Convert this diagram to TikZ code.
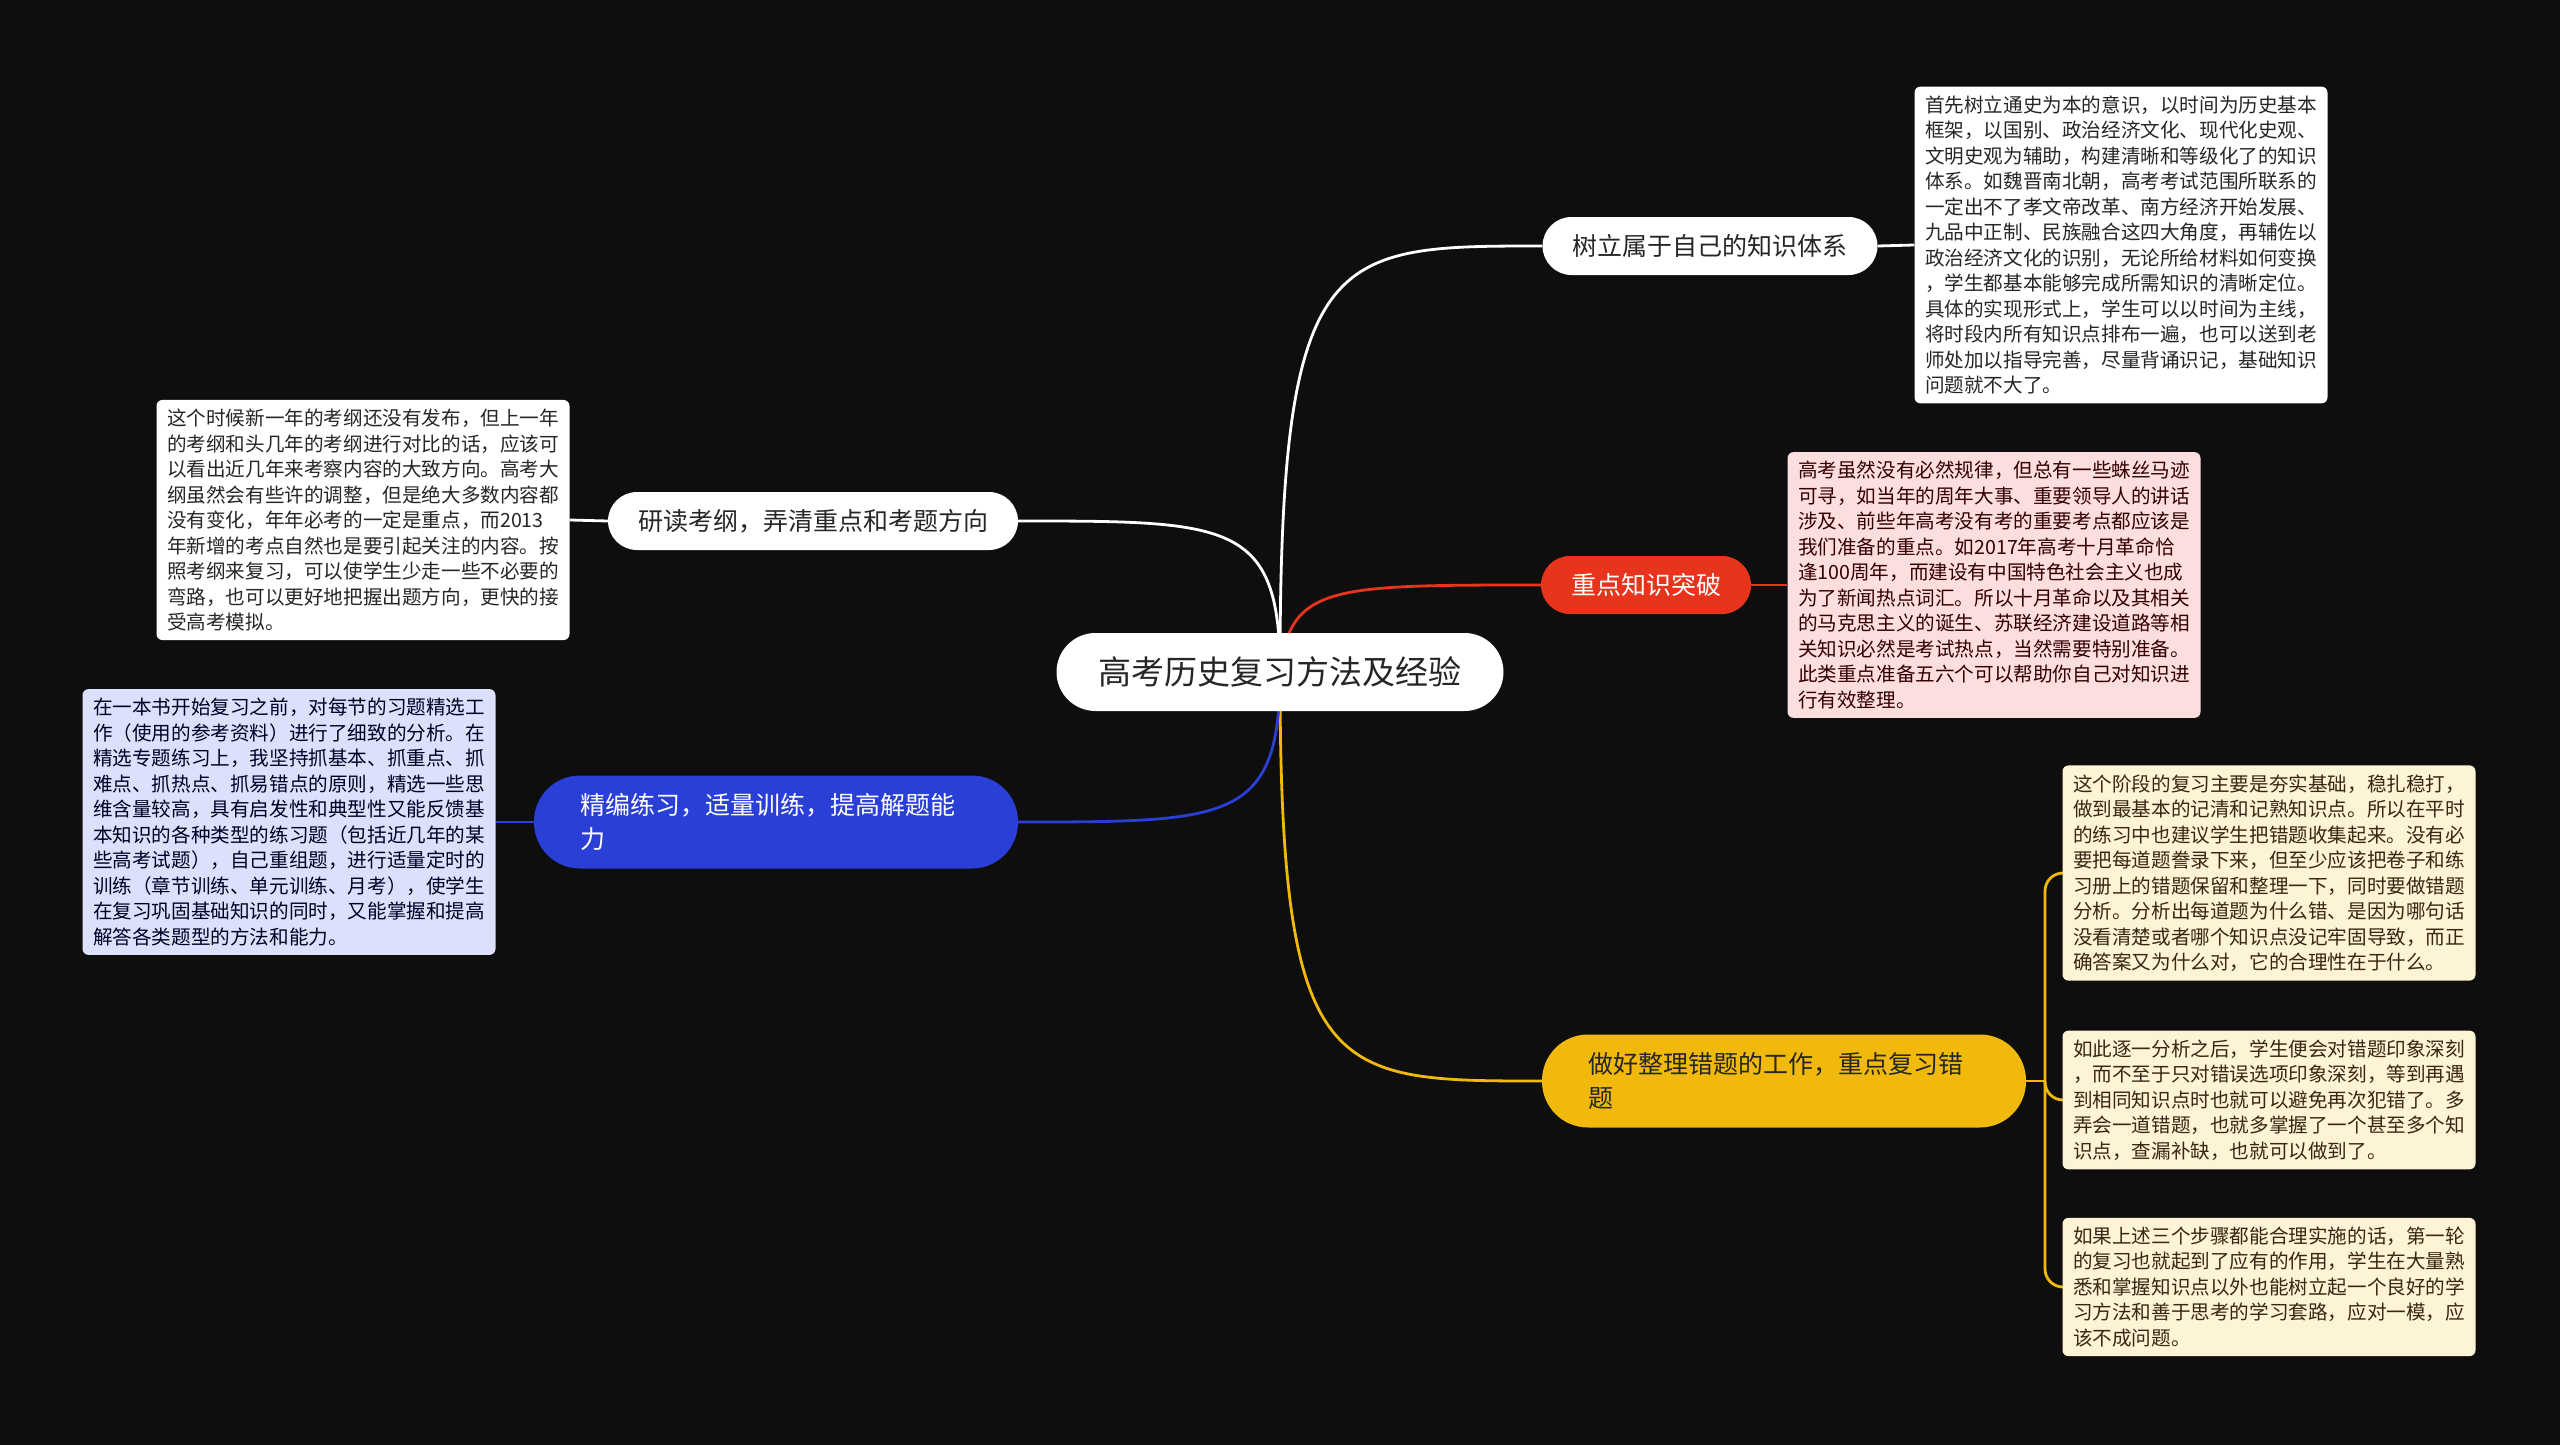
\documentclass[tikz,border=0pt]{standalone}
\usepackage{fontspec}
\setmainfont{Noto Sans CJK SC}
\usetikzlibrary{backgrounds}
\definecolor{bgdark}{HTML}{0E0E0F}
\definecolor{redtopic}{HTML}{E8341C}
\definecolor{bluetopic}{HTML}{2A3FD6}
\definecolor{yellowtopic}{HTML}{F0B90C}
\definecolor{pinknote}{HTML}{FDDEDE}
\definecolor{lilacnote}{HTML}{DDE0FA}
\definecolor{creamnote}{HTML}{FDF3D5}
\tikzset{
  topic/.style={rounded corners=29pt, minimum height=58pt, inner xsep=30pt, font=\fontsize{25}{34}\selectfont},
  widetopic/.style={topic, text width=392pt, align=left, inner xsep=46pt, minimum height=93pt, rounded corners=46pt},
  note/.style={rounded corners=6pt, fill=white, text=black!85, align=left, minimum width=413pt, inner xsep=10pt, inner ysep=9pt, font=\fontsize{19.6}{25.5}\selectfont},
  link/.style={line width=2.8pt},
}
\begin{document}
\begin{tikzpicture}[x=1pt,y=-1pt]
% root
\node[topic, fill=white, text=black!85, minimum height=78pt, rounded corners=39pt, inner xsep=42pt, font=\fontsize{33}{40}\selectfont] (root) at (1280,672) {高考历史复习方法及经验};
% right side
\node[topic, fill=white, text=black!85] (system) at (1710,246) {树立属于自己的知识体系};
\node[note] (systemnote) at (2121,245) {首先树立通史为本的意识，以时间为历史基本\\框架，以国别、政治经济文化、现代化史观、\\文明史观为辅助，构建清晰和等级化了的知识\\体系。如魏晋南北朝，高考考试范围所联系的\\一定出不了孝文帝改革、南方经济开始发展、\\九品中正制、民族融合这四大角度，再辅佐以\\政治经济文化的识别，无论所给材料如何变换\\，学生都基本能够完成所需知识的清晰定位。\\具体的实现形式上，学生可以以时间为主线，\\将时段内所有知识点排布一遍，也可以送到老\\师处加以指导完善，尽量背诵识记，基础知识\\问题就不大了。};
\node[topic, fill=redtopic, text=white] (focus) at (1646,585) {重点知识突破};
\node[note, fill=pinknote, text=red!20!black] (focusnote) at (1994,585) {高考虽然没有必然规律，但总有一些蛛丝马迹\\可寻，如当年的周年大事、重要领导人的讲话\\涉及、前些年高考没有考的重要考点都应该是\\我们准备的重点。如2017年高考十月革命恰\\逢100周年，而建设有中国特色社会主义也成\\为了新闻热点词汇。所以十月革命以及其相关\\的马克思主义的诞生、苏联经济建设道路等相\\关知识必然是考试热点，当然需要特别准备。\\此类重点准备五六个可以帮助你自己对知识进\\行有效整理。};
\node[widetopic, fill=yellowtopic, text=black!85] (errors) at (1784,1081) {做好整理错题的工作，重点复习错\\题};
\node[note, fill=creamnote, text=brown!30!black] (errnote1) at (2269,873) {这个阶段的复习主要是夯实基础，稳扎稳打，\\做到最基本的记清和记熟知识点。所以在平时\\的练习中也建议学生把错题收集起来。没有必\\要把每道题誊录下来，但至少应该把卷子和练\\习册上的错题保留和整理一下，同时要做错题\\分析。分析出每道题为什么错、是因为哪句话\\没看清楚或者哪个知识点没记牢固导致，而正\\确答案又为什么对，它的合理性在于什么。};
\node[note, fill=creamnote, text=brown!30!black] (errnote2) at (2269,1100) {如此逐一分析之后，学生便会对错题印象深刻\\，而不至于只对错误选项印象深刻，等到再遇\\到相同知识点时也就可以避免再次犯错了。多\\弄会一道错题，也就多掌握了一个甚至多个知\\识点，查漏补缺，也就可以做到了。};
\node[note, fill=creamnote, text=brown!30!black] (errnote3) at (2269,1287) {如果上述三个步骤都能合理实施的话，第一轮\\的复习也就起到了应有的作用，学生在大量熟\\悉和掌握知识点以外也能树立起一个良好的学\\习方法和善于思考的学习套路，应对一模，应\\该不成问题。};
\coordinate (fork) at (2045,1081);
% left side
\node[topic, fill=white, text=black!85] (outline) at (813,521) {研读考纲，弄清重点和考题方向};
\node[note] (outlinenote) at (363,520) {这个时候新一年的考纲还没有发布，但上一年\\的考纲和头几年的考纲进行对比的话，应该可\\以看出近几年来考察内容的大致方向。高考大\\纲虽然会有些许的调整，但是绝大多数内容都\\没有变化，年年必考的一定是重点，而2013\\年新增的考点自然也是要引起关注的内容。按\\照考纲来复习，可以使学生少走一些不必要的\\弯路，也可以更好地把握出题方向，更快的接\\受高考模拟。};
\node[widetopic, fill=bluetopic, text=white] (practice) at (776,822) {精编练习，适量训练，提高解题能\\力};
\node[note, fill=lilacnote, text=blue!15!black] (practicenote) at (289,822) {在一本书开始复习之前，对每节的习题精选工\\作（使用的参考资料）进行了细致的分析。在\\精选专题练习上，我坚持抓基本、抓重点、抓\\难点、抓热点、抓易错点的原则，精选一些思\\维含量较高，具有启发性和典型性又能反馈基\\本知识的各种类型的练习题（包括近几年的某\\些高考试题），自己重组题，进行适量定时的\\训练（章节训练、单元训练、月考），使学生\\在复习巩固基础知识的同时，又能掌握和提高\\解答各类题型的方法和能力。};
\begin{scope}[on background layer]
\fill[bgdark] (0,0) rectangle (2560,1445);
\draw[link, white] (root.center) .. controls (1280,246) and (1330,246) .. (system.west);
\draw[link, redtopic] (root.center) .. controls (1290,585) and (1330,585) .. (focus.west);
\draw[link, yellowtopic] (root.center) .. controls (1280,1081) and (1330,1081) .. (errors.west);
\draw[link, white] (root.center) .. controls (1280,521) and (1230,521) .. (outline.east);
\draw[link, bluetopic] (root.center) .. controls (1280,822) and (1230,822) .. (practice.east);
\draw[link, white] (system.east) -- (systemnote.west);
\draw[link, redtopic] (focus.east) -- (focusnote.west);
\draw[link, white] (outline.west) -- (outlinenote.east);
\draw[link, bluetopic] (practice.west) -- (practicenote.east);
\draw[link, yellowtopic] (errors.east) -- (fork);
\draw[link, yellowtopic, rounded corners=18pt] (fork) |- (errnote1.west);
\draw[link, yellowtopic, rounded corners=18pt] (fork) |- (errnote2.west);
\draw[link, yellowtopic, rounded corners=18pt] (fork) |- (errnote3.west);
\end{scope}
\end{tikzpicture}
\end{document}
